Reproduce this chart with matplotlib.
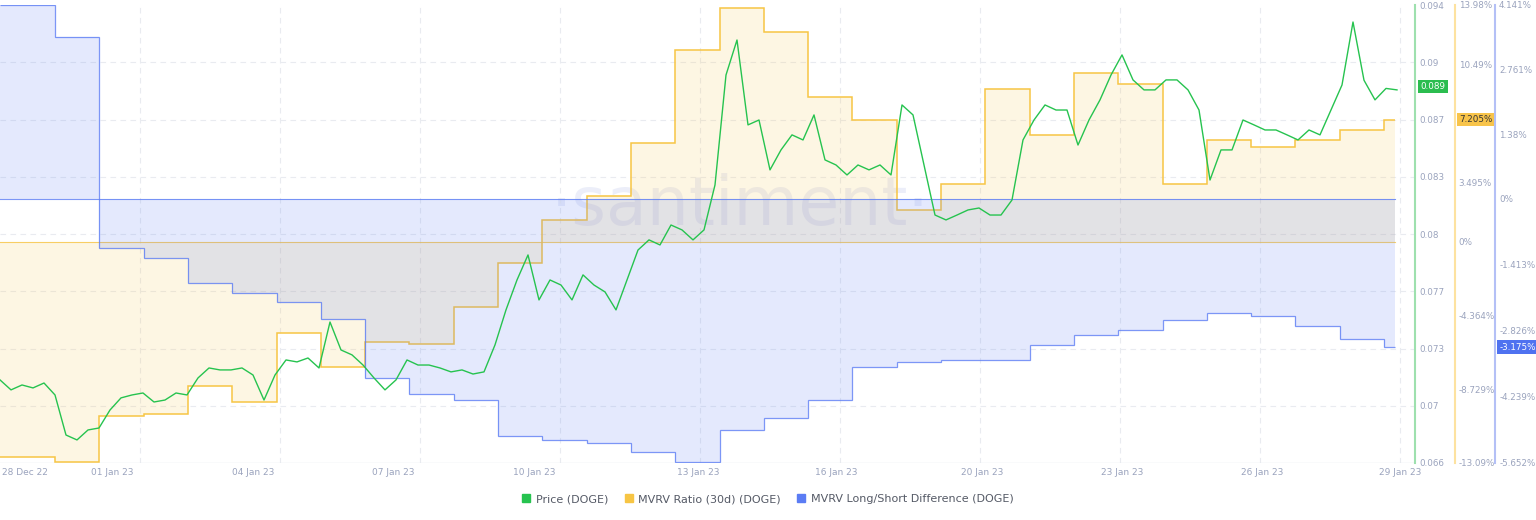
import numpy as np
import matplotlib
matplotlib.use("Agg")
import matplotlib.pyplot as plt
from matplotlib.patches import Patch

PX_PER_DAY = 44.3

price = [0.07108,0.07047,0.07077,0.07059,0.07089,0.07016,0.06771,0.06741,0.06802,0.06814,
         0.06924,0.06998,0.07016,0.07028,0.06973,0.06985,0.07028,0.07016,0.07120,0.07181,
         0.07169,0.07169,0.07181,0.07138,0.06985,0.07138,0.07230,0.07218,0.07242,0.07181,
         0.07462,0.07291,0.07261,0.07199,0.07120,0.07047,0.07108,0.07230,0.07199,0.07199,
         0.07181,0.07157,0.07169,0.07144,0.07157,0.07322,0.07536,0.07719,0.07872,0.07597,
         0.07719,0.07688,0.07597,0.07750,0.07688,0.07646,0.07536,0.07719,0.07902,0.07964,
         0.07933,0.08055,0.08025,0.07964,0.08025,0.08300,0.08972,0.09186,0.08667,0.08697,
         0.08392,0.08514,0.08606,0.08575,0.08728,0.08453,0.08422,0.08361,0.08422,0.08392,
         0.08422,0.08361,0.08789,0.08728,0.08422,0.08116,0.08086,0.08116,0.08147,0.08159,
         0.08116,0.08116,0.08208,0.08575,0.08697,0.08789,0.08758,0.08758,0.08544,0.08697,
         0.08820,0.08972,0.09095,0.08942,0.08881,0.08881,0.08942,0.08942,0.08881,0.08758,
         0.08330,0.08514,0.08514,0.08697,0.08667,0.08636,0.08636,0.08606,0.08575,0.08636,
         0.08606,0.08758,0.08911,0.09296,0.08940,0.08820,0.08890,0.08881]

mvrv30 = [-12.74,-13.03,-10.31,-10.19,-8.54,-9.49,-5.41,-7.42,-5.94,-6.06,-3.87,-1.27,
          1.27,2.69,5.82,11.32,13.79,12.38,8.54,7.18,1.86,3.40,9.01,6.29,9.96,9.31,
          3.40,6.00,5.59,6.00,6.59,7.205]

mvrv_ls = [4.15,3.46,-1.05,-1.26,-1.80,-2.01,-2.22,-2.57,-3.83,-4.17,-4.30,-5.07,
           -5.17,-5.22,-5.41,-5.62,-4.94,-4.68,-4.30,-3.61,-3.49,-3.44,-3.44,-3.12,
           -2.91,-2.80,-2.59,-2.44,-2.50,-2.72,-3.01,-3.175]

date_labels = ["28 Dec 22","01 Jan 23","04 Jan 23","07 Jan 23","10 Jan 23","13 Jan 23",
               "16 Jan 23","20 Jan 23","23 Jan 23","26 Jan 23","29 Jan 23"]
date_px = [25,112,253,393,534,698,836,982,1122,1262,1400]

price_ticks = [0.066,0.0695,0.073,0.0765,0.080,0.0835,0.087,0.0905,0.094]
price_tick_labels = ["0.066","0.07","0.073","0.077","0.08","0.083","0.087","0.09","0.094"]
o_ticks = [-13.09,-8.729,-4.364,0,3.495,10.49,13.98]
b_ticks = [-5.652,-4.239,-2.826,-1.413,0,1.38,2.761,4.141]

GREEN = "#26c34f"; ORANGE = "#f7c544"; BLUE = "#5b7cf4"; TXT = "#9aa3bd"

xmax = 1415 / PX_PER_DAY
edges = np.concatenate([[0], 55/PX_PER_DAY + np.arange(31), [1395/PX_PER_DAY]])
px = np.arange(len(price)) * 11 / PX_PER_DAY

fig = plt.figure(figsize=(15.36, 5.2), dpi=100)
ax = fig.add_axes([0, 57/520, 1415/1536, 458/520])
axO = ax.twinx(); axB = ax.twinx(); axP = ax.twinx()

for a in (ax, axO, axB, axP):
    a.set_xlim(0, xmax)
    for s in ("top", "left", "bottom", "right"):
        a.spines[s].set_visible(False)
ax.set_ylim(0.066, 0.094); axP.set_ylim(0.066, 0.094)
axO.set_ylim(-13.09, 13.98); axB.set_ylim(-5.652, 4.141)

ax.set_yticks(price_ticks[1:-1]); ax.set_yticklabels([])
ax.tick_params(axis="y", length=0)
ax.set_xticks([140/PX_PER_DAY*k for k in range(1, 11)], minor=False)
ax.grid(True, color="#e9ebf0", linestyle=(0, (5, 4)), linewidth=0.8)
ax.set_xticklabels([])
ax.tick_params(axis="x", length=0)
for t, p in zip(date_labels, date_px):
    ax.text(p/PX_PER_DAY, -0.012, t, transform=ax.get_xaxis_transform(),
            ha="center", va="top", fontsize=6.5, color=TXT)
ax.axhline(0.066, color="#e3e6ee", lw=1)

axO.stairs(mvrv30, edges, baseline=0, fill=True, color=ORANGE, alpha=0.15, lw=0)
axO.stairs(mvrv30, edges, baseline=None, color=ORANGE, lw=1.1)
axO.axhline(0, xmax=1395/1415, color=ORANGE, lw=0.8, alpha=0.8)
axB.stairs(mvrv_ls, edges, baseline=0, fill=True, color=BLUE, alpha=0.16, lw=0)
axB.stairs(mvrv_ls, edges, baseline=None, color=BLUE, lw=0.9, alpha=0.8)
axB.axhline(0, xmax=1395/1415, color=BLUE, lw=0.8, alpha=0.8)
axP.plot(px, price, color=GREEN, lw=1.0)

ax.text(740/PX_PER_DAY, 0.0817, "·santiment·", fontsize=48, color="#c9d0ef",
        alpha=0.35, ha="center", va="center", zorder=0)

axP.spines["right"].set_visible(True); axP.spines["right"].set_color("#9ee0ae")
axP.spines["right"].set_linewidth(1.5)
axP.set_yticks(price_ticks); axP.set_yticklabels(price_tick_labels)
axO.spines["right"].set_visible(True); axO.spines["right"].set_position(("axes", 1.028))
axO.spines["right"].set_color("#fde2a0"); axO.spines["right"].set_linewidth(1.5)
axO.set_yticks(o_ticks); axO.set_yticklabels(["-13.09%","-8.729%","-4.364%","0%","3.495%","10.49%","13.98%"])
axB.spines["right"].set_visible(True); axB.spines["right"].set_position(("axes", 1.0565))
axB.spines["right"].set_color("#b4c0f6"); axB.spines["right"].set_linewidth(1.5)
axB.set_yticks(b_ticks); axB.set_yticklabels(["-5.652%","-4.239%","-2.826%","-1.413%","0%","1.38%","2.761%","4.141%"])
for a in (axP, axO, axB):
    a.tick_params(axis="y", length=0, labelsize=6.3, labelcolor=TXT, pad=3)

axP.text(1.004, 0.089, "0.089", transform=axP.get_yaxis_transform(), fontsize=6.3,
         color="white", va="center", ha="left",
         bbox=dict(boxstyle="square,pad=0.25", fc="#2bbd4f", ec="none"))
axO.text(1.031, 7.205, "7.205%", transform=axO.get_yaxis_transform(), fontsize=6.3,
         color="#333333", va="center", ha="left",
         bbox=dict(boxstyle="square,pad=0.25", fc="#f8c44a", ec="none"))
axB.text(1.0595, -3.175, "-3.175%", transform=axB.get_yaxis_transform(), fontsize=6.3,
         color="white", va="center", ha="left",
         bbox=dict(boxstyle="square,pad=0.25", fc="#4f72f0", ec="none"))

handles = [Patch(color=GREEN, label="Price (DOGE)"),
           Patch(color=ORANGE, label="MVRV Ratio (30d) (DOGE)"),
           Patch(color=BLUE, label="MVRV Long/Short Difference (DOGE)")]
fig.legend(handles=handles, loc="center", bbox_to_anchor=(0.5, 1 - 499/520), ncol=3,
           frameon=False, fontsize=8, handlelength=0.7, handleheight=0.7,
           columnspacing=1.5, handletextpad=0.5, labelcolor="#555a66")

fig.savefig("out.png", dpi=100)
